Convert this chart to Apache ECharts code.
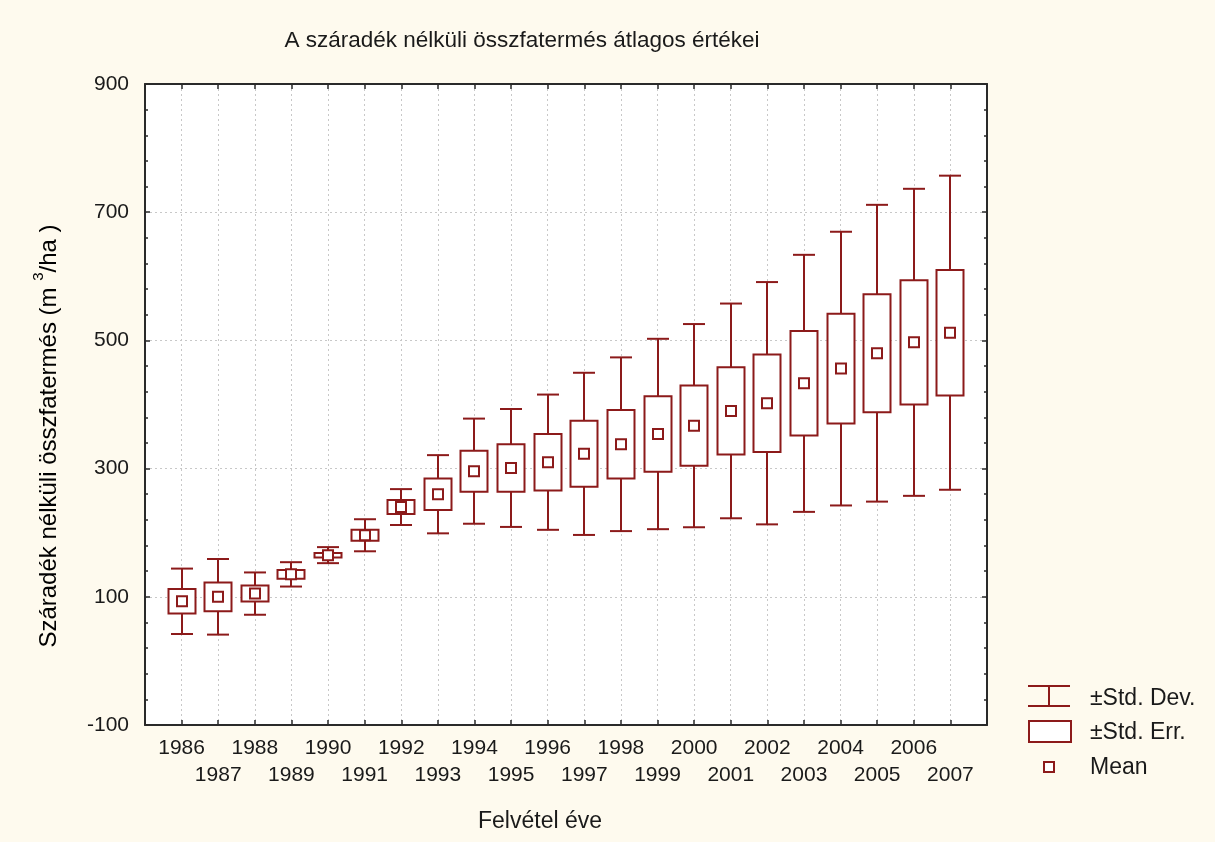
<!DOCTYPE html>
<html>
<head>
<meta charset="utf-8">
<script src="https://cdn.jsdelivr.net/npm/echarts@6/dist/echarts.min.js"></script>
<style>
html,body{margin:0;padding:0;background:#fefaee;}
#main{width:1215px;height:842px;}
</style>
</head>
<body>
<div id="main"></div>
<script>
// Data
const years = [1986,1987,1988,1989,1990,1991,1992,1993,1994,1995,1996,1997,1998,1999,2000,2001,2002,2003,2004,2005,2006,2007];
const means = [93,100,105,135,165,196,240,260,296,301,310,323,338,354,367,390,402,433,456,480,497,512];
const stdErr = [19,22.5,12.5,7,3.5,8.5,11,24.5,32,37,44,51.5,53.5,59,62.5,68,76,81.5,85.5,92,97,98];
const stdDev = [51,59,33,19,12.5,25,28,61,82,92,105.5,126.5,135.5,148.5,158.5,167.5,189,200.5,213.5,231.5,239.5,245];
const yTicks = [-100,100,300,500,700,900];

const COLOR = '#8c1a1a';
const FONT = '"Liberation Sans", Arial, sans-serif';
const TXT = '#1a1a1a';

const seriesData = years.map((y,i)=>[y, means[i], stdDev[i], stdErr[i]]);

function renderItem(params, api){
  const x = api.value(0), m = api.value(1), sd = api.value(2), se = api.value(3);
  const c = api.coord([x, m]);
  const cx = Math.round(c[0]);
  const top = api.coord([x, m+sd])[1], bot = api.coord([x, m-sd])[1];
  const bt = api.coord([x, m+se])[1], bb = api.coord([x, m-se])[1];
  const capW = 11, boxW = 13.5, ms = 5;
  const ls = {stroke: COLOR, lineWidth: 2, fill: null};
  return {
    type:'group',
    children:[
      {type:'line', shape:{x1:cx, y1:top, x2:cx, y2:bot}, style:ls},
      {type:'line', shape:{x1:cx-capW, y1:top, x2:cx+capW, y2:top}, style:ls},
      {type:'line', shape:{x1:cx-capW, y1:bot, x2:cx+capW, y2:bot}, style:ls},
      {type:'rect', shape:{x:cx-boxW, y:bt, width:boxW*2, height:bb-bt}, style:{stroke:COLOR, lineWidth:2, fill:'#fff'}},
      {type:'rect', shape:{x:cx-ms, y:c[1]-ms, width:ms*2, height:ms*2}, style:{stroke:COLOR, lineWidth:2, fill:'#fff'}}
    ]
  };
}

const axisLineStyle = {color:'#2a2a2a', width:2};
const chart = echarts.init(document.getElementById('main'));
chart.setOption({
  backgroundColor:'#fefaee',
  animation:false,
  grid:{left:145, top:84, right:228, bottom:117, show:true, backgroundColor:'#ffffff', borderWidth:0},
  xAxis:[{
    type:'value', min:1985, max:2008, interval:1,
    axisLine:{show:true, onZero:false, lineStyle:axisLineStyle},
    axisTick:{show:true, inside:true, length:5, lineStyle:{color:'#2a2a2a', width:1.5}},
    splitLine:{show:true, lineStyle:{color:'#c8c8c8', type:[2,3], width:1}},
    axisLabel:{
      margin:10, fontSize:21, fontFamily:FONT, color:TXT, lineHeight:27,
      formatter:function(v){ if(v<years[0]||v>years[years.length-1]) return ''; return (v%2===0)? String(v) : '\n'+v; }
    }
  },{
    type:'value', min:1985, max:2008, interval:1, position:'top',
    axisLine:{show:true, onZero:false, lineStyle:axisLineStyle},
    axisTick:{show:true, inside:true, length:5, lineStyle:{color:'#2a2a2a', width:1.5}},
    axisLabel:{show:false}, splitLine:{show:false}
  }],
  yAxis:[{
    type:'value', min:yTicks[0], max:yTicks[yTicks.length-1], interval:200,
    axisLine:{show:true, onZero:false, lineStyle:axisLineStyle},
    axisTick:{show:true, inside:true, length:5, lineStyle:{color:'#2a2a2a', width:1.5}},
    minorTick:{show:true, splitNumber:5, length:3, lineStyle:{color:'#2a2a2a', width:1.5}},
    splitLine:{show:true, lineStyle:{color:'#c8c8c8', type:[2,3], width:1}},
    axisLabel:{margin:16, fontSize:21, fontFamily:FONT, color:TXT}
  },{
    type:'value', min:yTicks[0], max:yTicks[yTicks.length-1], interval:200, position:'right',
    axisLine:{show:true, onZero:false, lineStyle:axisLineStyle},
    axisTick:{show:true, inside:true, length:5, lineStyle:{color:'#2a2a2a', width:1.5}},
    minorTick:{show:true, splitNumber:5, length:3, lineStyle:{color:'#2a2a2a', width:1.5}},
    axisLabel:{show:false}, splitLine:{show:false}
  }],
  series:[{
    type:'custom', name:'Mean', renderItem:renderItem, data:seriesData,
    encode:{x:0, y:[1]}, xAxisIndex:0, yAxisIndex:0, clip:false, z:5
  }],
  graphic:[
    {type:'text', x:522, y:41, style:{text:'A száradék nélküli összfatermés átlagos értékei', font:'22.5px '+FONT, fill:TXT, align:'center', verticalAlign:'middle'}},
    {type:'text', x:540, y:822, style:{text:'Felvétel éve', font:'23px '+FONT, fill:TXT, align:'center', verticalAlign:'middle'}},
    {type:'text', x:46, y:436, rotation:Math.PI/2, style:{
      text:'{a|Száradék nélküli összfatermés (m }{s|3}{a|/ha )}',
      align:'center', verticalAlign:'middle',
      rich:{
        a:{fontSize:24, fontFamily:FONT, color:TXT, lineHeight:30, verticalAlign:'bottom'},
        s:{fontSize:15, fontFamily:FONT, color:TXT, lineHeight:30, verticalAlign:'top'}
      }
    }},
    // legend
    {type:'line', shape:{x1:1028, y1:686, x2:1070, y2:686}, style:{stroke:COLOR, lineWidth:2}},
    {type:'line', shape:{x1:1049, y1:686, x2:1049, y2:706}, style:{stroke:COLOR, lineWidth:2}},
    {type:'line', shape:{x1:1028, y1:706, x2:1070, y2:706}, style:{stroke:COLOR, lineWidth:2}},
    {type:'text', x:1090, y:699, style:{text:'±Std. Dev.', font:'23px '+FONT, fill:TXT, verticalAlign:'middle'}},
    {type:'rect', shape:{x:1029, y:721, width:42, height:21}, style:{stroke:COLOR, lineWidth:2, fill:'#fff'}},
    {type:'text', x:1090, y:733, style:{text:'±Std. Err.', font:'23px '+FONT, fill:TXT, verticalAlign:'middle'}},
    {type:'rect', shape:{x:1044, y:762, width:10, height:10}, style:{stroke:COLOR, lineWidth:2, fill:'#fff'}},
    {type:'text', x:1090, y:768, style:{text:'Mean', font:'23px '+FONT, fill:TXT, verticalAlign:'middle'}}
  ]
});
</script>
</body>
</html>
